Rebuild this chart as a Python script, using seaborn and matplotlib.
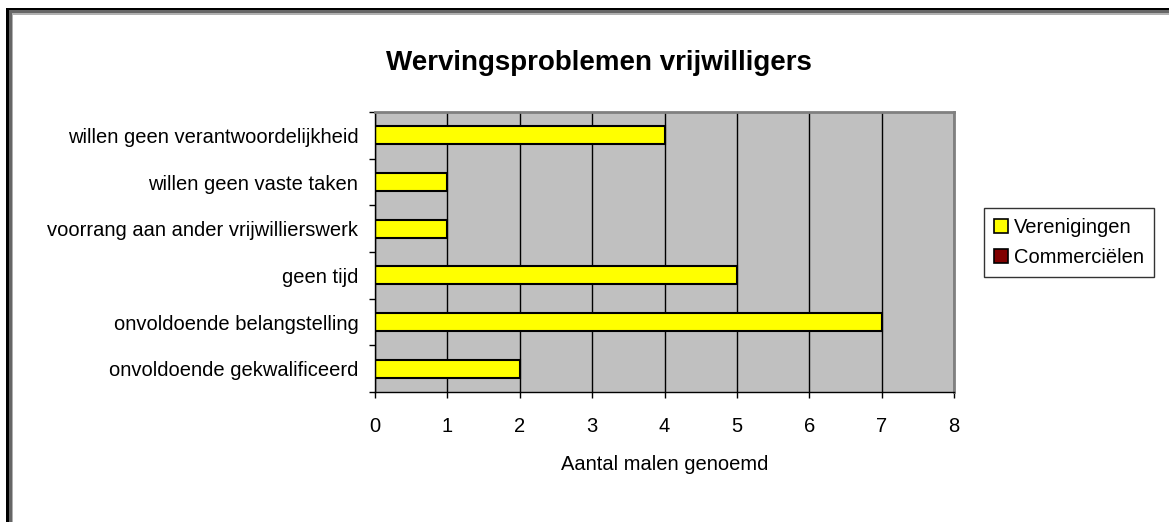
import matplotlib
matplotlib.use('Agg')
import matplotlib.pyplot as plt
import numpy as np
import pandas as pd
import seaborn as sns
from matplotlib.patches import Patch, Rectangle

# Data
categorieen = ['willen geen verantwoordelijkheid', 'willen geen vaste taken',
               'voorrang aan ander vrijwillierswerk', 'geen tijd',
               'onvoldoende belangstelling', 'onvoldoende gekwalificeerd']
verenigingen = [4, 1, 1, 5, 7, 2]
commercielen = [0, 0, 0, 0, 0, 0]
reeksen = ['Verenigingen', 'Commerciëlen']
kleuren = ['#FFFF00', '#800000']

df = pd.DataFrame({
    'Probleem': categorieen * 2,
    'Aantal': verenigingen + commercielen,
    'Reeks': [reeksen[0]] * len(categorieen) + [reeksen[1]] * len(categorieen),
})

sns.set_style('white')
plt.rcParams['font.family'] = ['Liberation Sans', 'DejaVu Sans']
plt.rcParams['text.color'] = 'black'
plt.rcParams['axes.labelcolor'] = 'black'
plt.rcParams['xtick.color'] = 'black'
plt.rcParams['ytick.color'] = 'black'

W, H = 1169, 522
fig = plt.figure(figsize=(W / 100, H / 100), dpi=100)

# Excel-achtige rand links en boven (geneste vlakken, achter de grafiek)
for links, boven, kleur in [(6, 8, 'black'), (8.5, 10, '#666666'),
                            (12, 13.3, '#B0B0B0'), (13.3, 15, 'white')]:
    fig.add_artist(Rectangle((links / W, -0.1), 1.2, 1.1 - boven / H,
                             transform=fig.transFigure, facecolor=kleur,
                             edgecolor='none', zorder=-10))

ax = fig.add_axes([375 / W, 1 - 392 / H, 579 / W, 280 / H])
ax.set_facecolor('#C0C0C0')

sns.barplot(data=df, x='Aantal', y='Probleem', hue='Reeks', palette=kleuren,
            dodge=False, width=0.39, saturation=1, edgecolor='black', linewidth=1.5,
            legend=False, ax=ax)

ax.set_xlim(0, 8)
ax.set_xticks(range(9))
ax.set_ylim(len(categorieen) - 0.5, -0.5)
ax.set_yticks(np.arange(-0.5, len(categorieen), 1))
ax.set_yticklabels([])
ax.set_yticks(range(len(categorieen)), minor=True)
ax.set_yticklabels(categorieen, minor=True)
ax.tick_params(axis='y', which='major', direction='out', length=4, width=1, color='black', left=True)
ax.tick_params(axis='y', which='minor', length=0, pad=12, labelsize=14.5)
ax.tick_params(axis='x', direction='out', length=4, width=1, color='black', bottom=True,
               pad=14, labelsize=14.5)

ax.xaxis.grid(True, color='black', linewidth=1)
ax.set_axisbelow(True)
for kant in ['left', 'bottom']:
    ax.spines[kant].set_color('black')
    ax.spines[kant].set_linewidth(1)
for kant in ['top', 'right']:
    ax.spines[kant].set_color('#808080')
    ax.spines[kant].set_linewidth(2)

ax.set_ylabel('')
ax.set_xlabel('Aantal malen genoemd', fontsize=14.5, labelpad=14)
fig.text(599 / W, 1 - 63 / H, 'Wervingsproblemen vrijwilligers',
         ha='center', va='center', fontsize=20, fontweight='bold')

handles = [Patch(facecolor=k, edgecolor='black', linewidth=1.2) for k in kleuren]
leg = fig.legend(handles, reeksen, loc='upper left',
                 bbox_to_anchor=(984 / W, 1 - 208 / H), fontsize=14.5,
                 frameon=True, fancybox=False, handlelength=0.7, handleheight=0.7,
                 handletextpad=0.3, borderpad=0.5, labelspacing=0.55, borderaxespad=0)
leg.get_frame().set_edgecolor('black')
leg.get_frame().set_linewidth(1)

fig.savefig('out.png', dpi=100)
